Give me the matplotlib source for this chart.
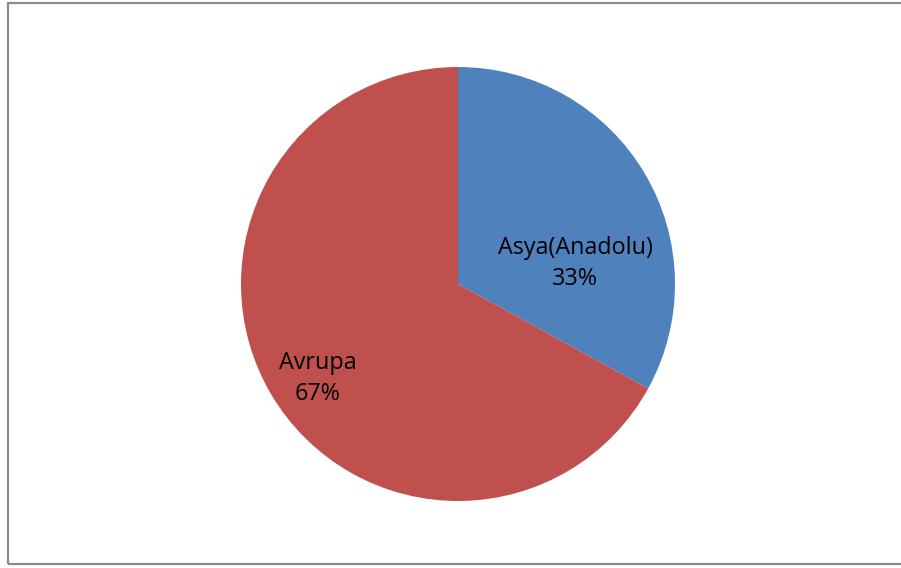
import matplotlib
matplotlib.use("Agg")
from matplotlib import pyplot as plt
from matplotlib.patches import Rectangle

labels = ["Asya(Anadolu)", "Avrupa"]
values = [33, 67]
colors = ["#4F81BD", "#C0504D"]

fig = plt.figure(figsize=(9.01, 5.68), dpi=100)

# Frame around the chart area
frame = Rectangle((8 / 901, 4 / 568), 1.0, 561 / 568, transform=fig.transFigure,
                  fill=False, edgecolor="#8c8c8c", linewidth=1.6)
fig.patches.append(frame)

# Pie axes
ax = fig.add_axes([241 / 901, 67 / 568, 434 / 901, 434 / 568])
wedges, _ = ax.pie(values, colors=colors, startangle=90, counterclock=False,
                   radius=1, wedgeprops=dict(linewidth=0))
ax.set_xlim(-1, 1)
ax.set_ylim(-1, 1)
ax.set_aspect("equal")
ax.axis("off")

label_pos = [(0.54, 0.095), (-0.645, -0.435)]
for lab, val, (x, y) in zip(labels, values, label_pos):
    ax.text(x, y, f"{lab}\n{val}%", ha="center", va="center", fontsize=16.8,
            family="Open Sans", linespacing=1.42, color="black")

fig.savefig("out.png", dpi=100)
